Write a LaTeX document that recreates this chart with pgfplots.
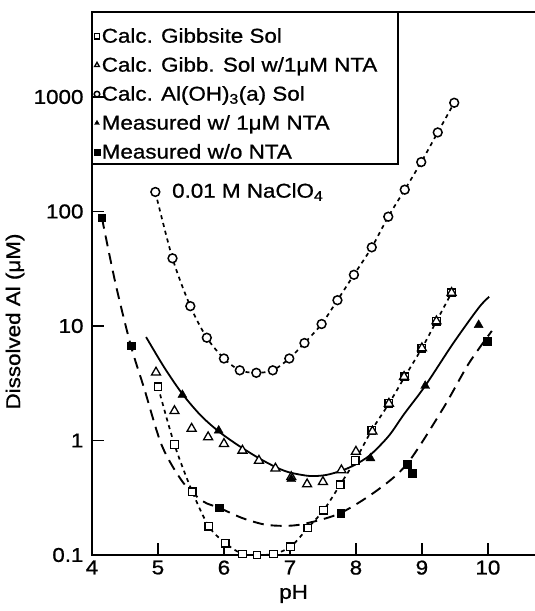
\documentclass[border=0pt]{standalone}
\usepackage{fontspec}
\setmainfont{Liberation Sans}[FakeStretch=1.12, FakeBold=0.9]
\usepackage{pgfplots}
\pgfplotsset{compat=1.18}
\usepackage{pgfplotstable}

\newcommand{\chartfont}{\fontsize{20bp}{24bp}\selectfont}

% calculated gibbsite solubility (open squares, dotted line)
\pgfplotstableread{
ph al
5.00 2.95
5.25 0.92
5.52 0.357
5.77 0.178
6.02 0.127
6.28 0.102
6.50 0.100
6.75 0.102
7.01 0.118
7.27 0.172
7.51 0.246
7.76 0.41
7.99 0.67
8.24 1.23
8.50 2.1
8.74 3.6
9.00 6.4
9.22 11
9.45 19.5
}\gibbsite

% calculated gibbsite solubility with 1 uM NTA (open triangles)
\pgfplotstableread{
ph al
4.97 3.93
5.25 1.81
5.51 1.27
5.76 1.07
6.00 0.935
6.28 0.817
6.53 0.667
6.78 0.57
7.02 0.48
7.26 0.415
7.50 0.435
7.78 0.55
8.00 0.80
8.25 1.2
8.50 2.1
8.73 3.6
9.00 6.4
9.22 11
9.45 19.5
}\gibbnta

% calculated amorphous Al(OH)3 solubility (open circles, dotted line)
\pgfplotstableread{
ph al
4.96 148
5.22 39
5.49 14.9
5.74 7.9
6.00 5.2
6.24 4.1
6.49 3.9
6.74 4.1
6.99 5.2
7.22 7.1
7.48 10.4
7.72 16.8
7.97 28
8.24 48.6
8.49 90
8.74 155
8.99 270
9.24 490
9.49 890
}\amorph

% measured with 1 uM NTA
\pgfplotstableread{
ph al
5.37 2.5
5.92 1.22
7.02 0.46
8.22 0.70
9.05 3.0
9.86 10.2
}\measnta

% measured without NTA
\pgfplotstableread{
ph al
4.15 88
4.59 6.7
5.93 0.258
7.77 0.233
8.78 0.62
8.85 0.52
9.99 7.4
}\meas

% fitted curves
\pgfplotstableread{
ph al
4.82 8.0
5.10 4.3
5.37 2.55
5.65 1.65
5.92 1.20
6.20 0.92
6.53 0.70
6.80 0.58
7.00 0.525
7.30 0.49
7.55 0.50
7.80 0.55
8.00 0.62
8.22 0.75
8.50 1.1
8.73 1.7
9.05 3.0
9.47 7.0
9.86 14.4
10.02 18
}\fitnta

\pgfplotstableread{
ph al
4.15 88
4.36 23
4.59 6.7
4.79 2.86
5.06 0.9
5.38 0.43
5.68 0.295
5.93 0.258
6.28 0.21
6.63 0.184
6.98 0.18
7.27 0.19
7.77 0.233
8.33 0.37
8.78 0.63
9.32 1.9
9.71 4.7
10.06 9.05
}\fitmeas

\begin{document}
\begin{tikzpicture}
\useasboundingbox (-92bp,-56bp) rectangle (443bp,555bp);
\begin{axis}[
    ymode=log,
    scale only axis,
    width=448bp, height=543bp,
    xmin=4, xmax=10.79,
    ymin=0.1, ymax=5520,
    xtick={4,5,6,7,8,9,10},
    ytick={0.1,1,10,100,1000},
    yticklabels={0.1,1,10,100,1000},
    xtick pos=lower, ytick pos=left,
    tick align=inside,
    major tick length=12bp,
    minor tick style={draw=none},
    axis line style={line width=2.2bp},
    tick style={line width=1.6bp, black},
    /pgf/number format/assume math mode=true,
    tick label style={font=\chartfont},
    yticklabel style={xshift=-5bp},
    xticklabel style={yshift=-2bp},
    label style={font=\chartfont},
    xlabel={pH},
    xlabel style={at={(axis description cs:0.45,0)}, anchor=center, yshift=-39bp},
    ylabel={Dissolved Al (μM)},
    ylabel style={at={(axis description cs:-0.172,0.43)}, anchor=center},
    legend style={at={(rel axis cs:0,1)}, anchor=north west, draw=none, fill=none,
        yshift=-14bp, font=\chartfont, inner xsep=2bp, inner ysep=0bp, row sep=9bp},
    legend cell align=left,
    legend image code/.code={\draw[#1, only marks, mark size=2.8bp] plot coordinates {(0.1cm,0cm)};},
]
% lines
\addplot[forget plot, black, line width=1.7bp, dash pattern=on 4bp off 4bp, smooth] table[x=ph, y=al] {\gibbsite};
\addplot[forget plot, black, line width=1.7bp, dash pattern=on 4bp off 4bp, smooth] table[x=ph, y=al] {\amorph};
\addplot[forget plot, black, line width=1.8bp, smooth] table[x=ph, y=al] {\fitnta};
\addplot[forget plot, black, line width=1.9bp, dash pattern=on 11bp off 7bp, smooth] table[x=ph, y=al] {\fitmeas};
% marks
\addplot[only marks, black, mark=square*, mark size=3.8bp, mark options={fill=white, line width=1.3bp}] table[x=ph, y=al] {\gibbsite};
\addlegendentry{Calc. Gibbsite Sol}
\addplot[only marks, black, mark=triangle*, mark size=5.2bp, mark options={fill=white, line width=1.3bp}] table[x=ph, y=al] {\gibbnta};
\addlegendentry{Calc. Gibb. Sol w/1μM NTA}
\addplot[only marks, black, mark=*, mark size=4.4bp, mark options={fill=white, line width=1.5bp}] table[x=ph, y=al] {\amorph};
\addlegendentry{Calc. Al(OH)\textsubscript{3}(a) Sol}
\addplot[only marks, black, mark=triangle*, mark size=5.2bp, mark options={fill=black}] table[x=ph, y=al] {\measnta};
\addlegendentry{Measured w/ 1μM NTA}
\addplot[only marks, black, mark=square*, mark size=3.8bp, mark options={fill=black}] table[x=ph, y=al] {\meas};
\addlegendentry{Measured w/o NTA}
% legend frame
\draw[line width=1.2bp] (rel axis cs:0,1) rectangle (rel axis cs:0.683,0.720);
\node[font=\chartfont] at (axis cs:6.36,148) {0.01 M NaClO\textsubscript{4}};
\end{axis}
\end{tikzpicture}
\end{document}
